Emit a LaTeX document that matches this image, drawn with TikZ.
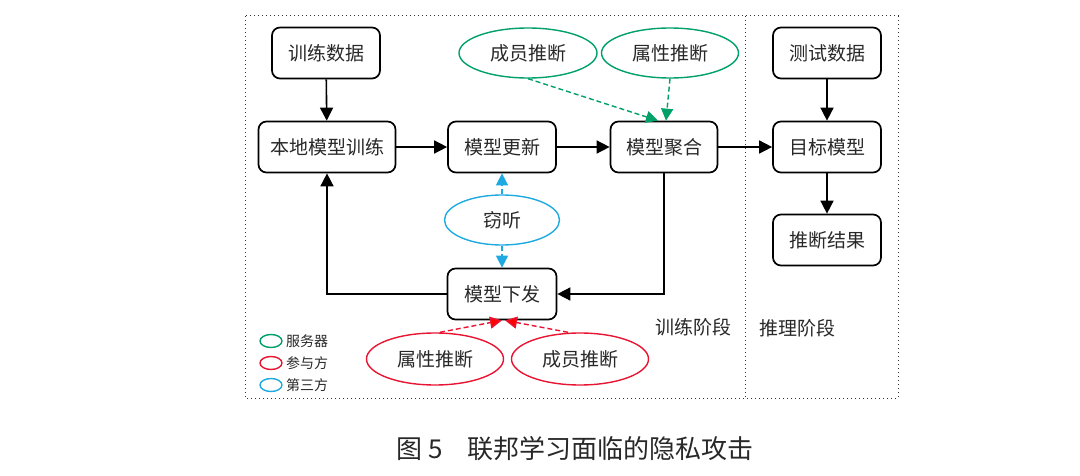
\documentclass[tikz,border=0pt]{standalone}
\usepackage{fontspec}
\newfontfamily\cjk{Noto Sans CJK SC}
\usetikzlibrary{arrows.meta,shapes.geometric}
\definecolor{gcol}{RGB}{0,160,105}
\definecolor{rcol}{RGB}{232,20,50}
\definecolor{ccol}{RGB}{30,170,225}
\definecolor{tcol}{RGB}{40,40,40}
\begin{document}
\begin{tikzpicture}[x=1pt,y=-1pt,
  stepbox/.style={draw, line width=1.7pt, rounded corners=8pt, minimum width=108pt, minimum height=51pt, inner sep=0pt, text=tcol, font=\cjk\fontsize{19}{21}\selectfont},
  ell/.style={ellipse, draw, line width=1.4pt, minimum width=138pt, minimum height=50pt, inner sep=0pt, text=tcol, font=\cjk\fontsize{19}{21}\selectfont},
  legell/.style={ellipse, draw, line width=1.4pt, minimum width=22pt, minimum height=13pt, inner sep=0pt},
  lbl/.style={text=tcol, inner sep=0pt, font=\cjk\fontsize{19}{21}\selectfont},
  leglbl/.style={text=tcol, inner sep=0pt, anchor=west, font=\cjk\fontsize{14}{16}\selectfont},
  arr/.style={-{Triangle[length=13pt,width=13pt]}, line width=1.6pt},
  darr/.style={-{Triangle[length=12pt,width=12pt]}, line width=1.4pt, dash pattern=on 5pt off 3pt},
  frame/.style={line width=1pt, black!80, dash pattern=on 1pt off 3pt}
]
\useasboundingbox (0,0) rectangle (1080,476);
% frame
\draw[frame] (245,16) rectangle (898,398);
\draw[frame] (745,16) -- (745,398);
% boxes
\node[stepbox] (td) at (326,53) {训练数据};
\node[stepbox, minimum width=137pt] (lt) at (327,147) {本地模型训练};
\node[stepbox] (mu) at (502,147) {模型更新};
\node[stepbox, minimum width=107pt] (ma) at (664,147) {模型聚合};
\node[stepbox, minimum width=109pt] (md) at (502,294) {模型下发};
\node[stepbox] (tsd) at (827,53) {测试数据};
\node[stepbox] (tm) at (827,147) {目标模型};
\node[stepbox] (ir) at (827,240) {推断结果};
% ellipses
\node[ell, draw=gcol] (g1) at (528,53) {成员推断};
\node[ell, draw=gcol, minimum width=137pt] (g2) at (670,53) {属性推断};
\node[ell, draw=ccol, minimum width=115pt] (ey) at (502,220) {窃听};
\node[ell, draw=rcol, minimum width=137pt, minimum height=52pt] (r1) at (435,359) {属性推断};
\node[ell, draw=rcol, minimum width=137pt, minimum height=52pt] (r2) at (580,359) {成员推断};
% legend
\node[legell, draw=gcol] (lg1) at (271,341) {};
\node[legell, draw=rcol] (lg2) at (271,363) {};
\node[legell, draw=ccol] (lg3) at (271,385) {};
\node[leglbl] (lt1) at (286,341) {服务器};
\node[leglbl] (lt2) at (286,363) {参与方};
\node[leglbl] (lt3) at (286,385) {第三方};
% stage labels
\node[lbl] (s1) at (693,327) {训练阶段};
\node[lbl] (s2) at (797,328) {推理阶段};
% caption
\node[text=tcol, inner sep=0pt, anchor=west, font=\cjk\fontsize{26}{28}\selectfont] (cap) at (396,449) {\makebox[71pt][l]{图 5}联邦学习面临的隐私攻击};
% connectors
\draw[arr] (td) -- (lt);
\draw[arr] (lt) -- (mu);
\draw[arr] (mu) -- (ma);
\draw[arr] (ma) -- (tm);
\draw[arr] (tsd) -- (tm);
\draw[arr] (tm) -- (ir);
\draw[arr] (ma.south) |- (md.east);
\draw[arr] (md.west) -| (lt.south);
% green dashed
\draw[darr, gcol] (g1.south) -- ([xshift=-6pt]ma.north);
\draw[darr, gcol] (g2.south) -- ([xshift=2pt]ma.north);
% cyan dashed
\draw[darr, ccol] (ey.north) -- (mu.south);
\draw[darr, ccol] (ey.south) -- (md.north);
% red dashed
\draw[darr, rcol, -{Triangle[length=12pt,width=12pt,fill=red]}] ([xshift=5pt]r1.north) -- ([xshift=0pt]md.south);
\draw[darr, rcol, -{Triangle[length=12pt,width=12pt,fill=red]}] ([xshift=-12pt]r2.north) -- ([xshift=3pt]md.south);
\end{tikzpicture}
\end{document}
